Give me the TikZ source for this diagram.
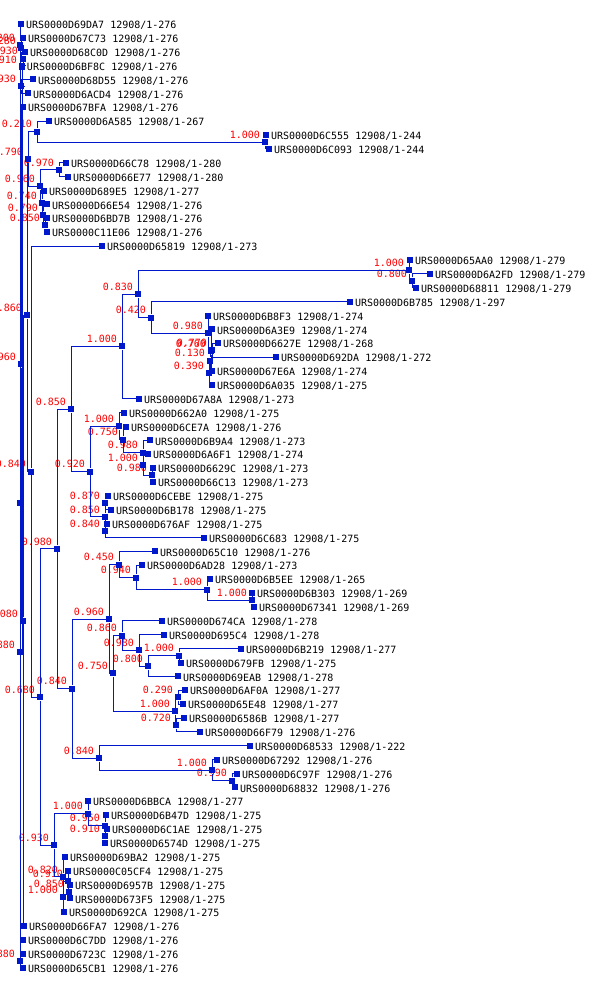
\documentclass[tikz,border=0pt]{standalone}
\usepackage{fontspec}
\usepackage{tikz}
\newfontfamily\treefont{DejaVu Sans Mono}
\definecolor{treeblue}{RGB}{0,24,204}
\definecolor{bootred}{RGB}{255,0,0}

\begin{document}
\begin{tikzpicture}
	[x=1pt,y=-1pt,line width=1pt,label distance=1pt,
		sq/.style={fill=treeblue,inner sep=0pt,minimum size=6pt},
		leaf/.style={sq,label={[name text]0:#1}},
		name text/.style={text=black,font=\treefont\fontsize{10}{12}\selectfont,inner sep=0pt,text height=7.3pt,text depth=0pt,yshift=-1pt},
		branch/.style={sq,label={[boot]180:#1}},
		boot/.style={text=bootred,font=\treefont\fontsize{10}{12}\selectfont,inner sep=0pt,anchor=base east,yshift=3.7pt},
		elbow/.style={to path={|- (\tikztotarget)}},
		every edge/.style={draw=treeblue}]

	\useasboundingbox (0,0) rectangle (600,1006);

	% sequences
	\node[leaf={URS0000D69DA7 12908/1-276}] (S1) at (21,24.0) {};
	\node[leaf={URS0000D67C73 12908/1-276}] (S2) at (23,37.9) {};
	\node[leaf={URS0000D68C0D 12908/1-276}] (S3) at (25,51.8) {};
	\node[leaf={URS0000D6BF8C 12908/1-276}] (S4) at (22,65.6) {};
	\node[leaf={URS0000D68D55 12908/1-276}] (S5) at (33,79.5) {};
	\node[leaf={URS0000D6ACD4 12908/1-276}] (S6) at (28,93.4) {};
	\node[leaf={URS0000D67BFA 12908/1-276}] (S7) at (23,107.3) {};
	\node[leaf={URS0000D6A585 12908/1-267}] (S8) at (49,121.2) {};
	\node[leaf={URS0000D6C555 12908/1-244}] (S9) at (266,135.0) {};
	\node[leaf={URS0000D6C093 12908/1-244}] (S10) at (269,148.9) {};
	\node[leaf={URS0000D66C78 12908/1-280}] (S11) at (66,162.8) {};
	\node[leaf={URS0000D66E77 12908/1-280}] (S12) at (68,176.7) {};
	\node[leaf={URS0000D689E5 12908/1-277}] (S13) at (44,190.6) {};
	\node[leaf={URS0000D66E54 12908/1-276}] (S14) at (47,204.4) {};
	\node[leaf={URS0000D6BD7B 12908/1-276}] (S15) at (47,218.3) {};
	\node[leaf={URS0000C11E06 12908/1-276}] (S16) at (47,232.2) {};
	\node[leaf={URS0000D65819 12908/1-273}] (S17) at (102,246.1) {};
	\node[leaf={URS0000D65AA0 12908/1-279}] (S18) at (410,260.0) {};
	\node[leaf={URS0000D6A2FD 12908/1-279}] (S19) at (430,273.8) {};
	\node[leaf={URS0000D68811 12908/1-279}] (S20) at (416,287.7) {};
	\node[leaf={URS0000D6B785 12908/1-297}] (S21) at (350,301.6) {};
	\node[leaf={URS0000D6B8F3 12908/1-274}] (S22) at (208,315.5) {};
	\node[leaf={URS0000D6A3E9 12908/1-274}] (S23) at (212,329.4) {};
	\node[leaf={URS0000D6627E 12908/1-268}] (S24) at (218,343.2) {};
	\node[leaf={URS0000D692DA 12908/1-272}] (S25) at (276,357.1) {};
	\node[leaf={URS0000D67E6A 12908/1-274}] (S26) at (212,371.0) {};
	\node[leaf={URS0000D6A035 12908/1-275}] (S27) at (212,384.9) {};
	\node[leaf={URS0000D67A8A 12908/1-273}] (S28) at (139,398.8) {};
	\node[leaf={URS0000D662A0 12908/1-275}] (S29) at (124,412.6) {};
	\node[leaf={URS0000D6CE7A 12908/1-276}] (S30) at (126,426.5) {};
	\node[leaf={URS0000D6B9A4 12908/1-273}] (S31) at (150,440.4) {};
	\node[leaf={URS0000D6A6F1 12908/1-274}] (S32) at (148,454.3) {};
	\node[leaf={URS0000D6629C 12908/1-273}] (S33) at (153,468.2) {};
	\node[leaf={URS0000D66C13 12908/1-273}] (S34) at (153,482.0) {};
	\node[leaf={URS0000D6CEBE 12908/1-275}] (S35) at (108,495.9) {};
	\node[leaf={URS0000D6B178 12908/1-275}] (S36) at (111,509.8) {};
	\node[leaf={URS0000D676AF 12908/1-275}] (S37) at (107,523.7) {};
	\node[leaf={URS0000D6C683 12908/1-275}] (S38) at (204,537.6) {};
	\node[leaf={URS0000D65C10 12908/1-276}] (S39) at (155,551.4) {};
	\node[leaf={URS0000D6AD28 12908/1-273}] (S40) at (142,565.3) {};
	\node[leaf={URS0000D6B5EE 12908/1-265}] (S41) at (210,579.2) {};
	\node[leaf={URS0000D6B303 12908/1-269}] (S42) at (252,593.1) {};
	\node[leaf={URS0000D67341 12908/1-269}] (S43) at (254,607.0) {};
	\node[leaf={URS0000D674CA 12908/1-278}] (S44) at (162,620.8) {};
	\node[leaf={URS0000D695C4 12908/1-278}] (S45) at (164,634.7) {};
	\node[leaf={URS0000D6B219 12908/1-277}] (S46) at (241,648.6) {};
	\node[leaf={URS0000D679FB 12908/1-275}] (S47) at (181,662.5) {};
	\node[leaf={URS0000D69EAB 12908/1-278}] (S48) at (178,676.4) {};
	\node[leaf={URS0000D6AF0A 12908/1-277}] (S49) at (185,690.2) {};
	\node[leaf={URS0000D65E48 12908/1-277}] (S50) at (183,704.1) {};
	\node[leaf={URS0000D6586B 12908/1-277}] (S51) at (184,718.0) {};
	\node[leaf={URS0000D66F79 12908/1-276}] (S52) at (200,731.9) {};
	\node[leaf={URS0000D68533 12908/1-222}] (S53) at (250,745.8) {};
	\node[leaf={URS0000D67292 12908/1-276}] (S54) at (217,759.6) {};
	\node[leaf={URS0000D6C97F 12908/1-276}] (S55) at (237,773.5) {};
	\node[leaf={URS0000D68832 12908/1-276}] (S56) at (235,787.4) {};
	\node[leaf={URS0000D6BBCA 12908/1-277}] (S57) at (88,801.3) {};
	\node[leaf={URS0000D6B47D 12908/1-275}] (S58) at (106,815.2) {};
	\node[leaf={URS0000D6C1AE 12908/1-275}] (S59) at (107,829.0) {};
	\node[leaf={URS0000D6574D 12908/1-275}] (S60) at (105,842.9) {};
	\node[leaf={URS0000D69BA2 12908/1-275}] (S61) at (65,856.8) {};
	\node[leaf={URS0000C05CF4 12908/1-275}] (S62) at (68,870.7) {};
	\node[leaf={URS0000D6957B 12908/1-275}] (S63) at (70,884.6) {};
	\node[leaf={URS0000D673F5 12908/1-275}] (S64) at (70,898.4) {};
	\node[leaf={URS0000D692CA 12908/1-275}] (S65) at (64,912.3) {};
	\node[leaf={URS0000D66FA7 12908/1-276}] (S66) at (24,926.2) {};
	\node[leaf={URS0000D6C7DD 12908/1-276}] (S67) at (23,940.1) {};
	\node[leaf={URS0000D6723C 12908/1-276}] (S68) at (23,954.0) {};
	\node[leaf={URS0000D65CB1 12908/1-276}] (S69) at (23,967.8) {};

	% branch points
	\node[branch={1.000}] (N1) at (265,142.0) {};
	\node[branch={0.210}] (N2) at (37,131.6) {};
	\node[branch={0.970}] (N3) at (59,169.8) {};
	\node[branch={0.850}] (N4) at (45,225.3) {};
	\node[branch={0.790}] (N5) at (43,214.8) {};
	\node[branch={0.740}] (N6) at (42,202.7) {};
	\node[branch={0.960}] (N7) at (40,186.3) {};
	\node[branch={0.790}] (N8) at (28,159.0) {};
	\node[branch={0.800}] (N9) at (412,280.8) {};
	\node[branch={1.000}] (N10) at (409,270.4) {};
	\node[branch={0.770}] (N11) at (212,350.2) {};
	\node[branch={0.130}] (N12) at (210,360.6) {};
	\node[branch={0.390}] (N13) at (209,372.8) {};
	\node[branch={0.760}] (N14) at (211,351.1) {};
	\node[branch={0.980}] (N15) at (208,333.3) {};
	\node[branch={0.420}] (N16) at (151,317.5) {};
	\node[branch={0.830}] (N17) at (138,294.0) {};
	\node[branch={1.000}] (N18) at (122,346.4) {};
	\node[branch={0.980}] (N19) at (152,475.1) {};
	\node[branch={1.000}] (N20) at (143,464.7) {};
	\node[branch={0.980}] (N21) at (143,452.6) {};
	\node[branch={0.750}] (N22) at (123,439.6) {};
	\node[branch={1.000}] (N23) at (119,426.1) {};
	\node[branch={0.870}] (N24) at (105,502.9) {};
	\node[branch={0.840}] (N25) at (105,530.7) {};
	\node[branch={0.850}] (N26) at (105,516.8) {};
	\node[branch={0.920}] (N27) at (90,471.5) {};
	\node[branch={0.850}] (N28) at (71,409.0) {};
	\node[branch={1.000}] (N29) at (252,600.1) {};
	\node[branch={1.000}] (N30) at (207,589.6) {};
	\node[branch={0.940}] (N31) at (136,577.5) {};
	\node[branch={0.450}] (N32) at (119,564.5) {};
	\node[branch={1.000}] (N33) at (179,655.6) {};
	\node[branch={0.800}] (N34) at (148,666.0) {};
	\node[branch={0.980}] (N35) at (139,650.4) {};
	\node[branch={0.860}] (N36) at (122,635.6) {};
	\node[branch={0.290}] (N37) at (178,697.2) {};
	\node[branch={0.720}] (N38) at (176,725.0) {};
	\node[branch={1.000}] (N39) at (175,711.1) {};
	\node[branch={0.750}] (N40) at (113,673.4) {};
	\node[branch={0.960}] (N41) at (109,619.0) {};
	\node[branch={0.990}] (N42) at (232,780.5) {};
	\node[branch={1.000}] (N43) at (212,770.1) {};
	\node[branch={0.840}] (N44) at (99,758.0) {};
	\node[branch={0.840}] (N45) at (72,688.5) {};
	\node[branch={0.980}] (N46) at (57,548.8) {};
	\node[branch={0.910}] (N47) at (105,836.0) {};
	\node[branch={0.950}] (N48) at (105,825.6) {};
	\node[branch={1.000}] (N49) at (88,813.5) {};
	\node[branch={0.850}] (N50) at (69,891.5) {};
	\node[branch={0.910}] (N51) at (68,881.1) {};
	\node[branch={1.000}] (N52) at (63,896.7) {};
	\node[branch={0.820}] (N53) at (63,876.8) {};
	\node[branch={0.930}] (N54) at (54,845.2) {};
	\node[branch={0.680}] (N55) at (40,697.0) {};
	\node[branch={0.840}] (N56) at (31,471.6) {};
	\node[branch={0.860}] (N57) at (27,315.3) {};
	\node[branch={0.080}] (N58) at (23,620.8) {};
	\node[branch={0.960}] (N59) at (21,364.1) {};
	\node[branch={0.880}] (N60) at (20,652.1) {};
	\node[branch={0.880}] (N61) at (20,960.9) {};
	\node[branch={0.930}] (N62) at (21,86.5) {};
	\node[branch={0.930}] (N63) at (23,58.7) {};
	\node[branch={0.280}] (N64) at (21,48.3) {};
	\node[branch={0.200}] (N65) at (20,45.0) {};
	\node[branch={0.910}] (N66) at (22,67.0) {};
	\node[sq] (N67) at (20,503.0) {};

	\path[]
	(N1) edge [elbow] (S9)  (N1) edge [elbow] (S10)
	(N2) edge [elbow] (S8)  (N2) edge [elbow] (N1)
	(N3) edge [elbow] (S11) (N3) edge [elbow] (S12)
	(N4) edge [elbow] (S15) (N4) edge [elbow] (S16)
	(N5) edge [elbow] (S14) (N5) edge [elbow] (N4)
	(N6) edge [elbow] (S13) (N6) edge [elbow] (N5)
	(N7) edge [elbow] (N3)  (N7) edge [elbow] (N6)
	(N8) edge [elbow] (N2)  (N8) edge [elbow] (N7)

	(N9) edge [elbow] (S19)  (N9) edge [elbow] (S20)
	(N10) edge [elbow] (S18) (N10) edge [elbow] (N9)
	(N11) edge [elbow] (S24) (N11) edge [elbow] (S25)
	(N12) edge [elbow] (N11) (N12) edge [elbow] (S26)
	(N13) edge [elbow] (N12) (N13) edge [elbow] (S27)
	(N14) edge [elbow] (S23) (N14) edge [elbow] (N13)
	(N15) edge [elbow] (S22) (N15) edge [elbow] (N14)
	(N16) edge [elbow] (S21) (N16) edge [elbow] (N15)
	(N17) edge [elbow] (N10) (N17) edge [elbow] (N16)
	(N18) edge [elbow] (N17) (N18) edge [elbow] (S28)

	(N19) edge [elbow] (S33) (N19) edge [elbow] (S34)
	(N20) edge [elbow] (S32) (N20) edge [elbow] (N19)
	(N21) edge [elbow] (S31) (N21) edge [elbow] (N20)
	(N22) edge [elbow] (S30) (N22) edge [elbow] (N21)
	(N23) edge [elbow] (S29) (N23) edge [elbow] (N22)
	(N24) edge [elbow] (S35) (N24) edge [elbow] (S36)
	(N25) edge [elbow] (S37) (N25) edge [elbow] (S38)
	(N26) edge [elbow] (N24) (N26) edge [elbow] (N25)
	(N27) edge [elbow] (N23) (N27) edge [elbow] (N26)
	(N28) edge [elbow] (N18) (N28) edge [elbow] (N27)

	(N29) edge [elbow] (S42) (N29) edge [elbow] (S43)
	(N30) edge [elbow] (S41) (N30) edge [elbow] (N29)
	(N31) edge [elbow] (S40) (N31) edge [elbow] (N30)
	(N32) edge [elbow] (S39) (N32) edge [elbow] (N31)
	(N33) edge [elbow] (S46) (N33) edge [elbow] (S47)
	(N34) edge [elbow] (N33) (N34) edge [elbow] (S48)
	(N35) edge [elbow] (S45) (N35) edge [elbow] (N34)
	(N36) edge [elbow] (S44) (N36) edge [elbow] (N35)
	(N37) edge [elbow] (S49) (N37) edge [elbow] (S50)
	(N38) edge [elbow] (S51) (N38) edge [elbow] (S52)
	(N39) edge [elbow] (N37) (N39) edge [elbow] (N38)
	(N40) edge [elbow] (N36) (N40) edge [elbow] (N39)
	(N41) edge [elbow] (N32) (N41) edge [elbow] (N40)
	(N42) edge [elbow] (S55) (N42) edge [elbow] (S56)
	(N43) edge [elbow] (S54) (N43) edge [elbow] (N42)
	(N44) edge [elbow] (S53) (N44) edge [elbow] (N43)
	(N45) edge [elbow] (N41) (N45) edge [elbow] (N44)
	(N46) edge [elbow] (N28) (N46) edge [elbow] (N45)

	(N47) edge [elbow] (S59) (N47) edge [elbow] (S60)
	(N48) edge [elbow] (S58) (N48) edge [elbow] (N47)
	(N49) edge [elbow] (S57) (N49) edge [elbow] (N48)
	(N50) edge [elbow] (S63) (N50) edge [elbow] (S64)
	(N51) edge [elbow] (S62) (N51) edge [elbow] (N50)
	(N52) edge [elbow] (N51) (N52) edge [elbow] (S65)
	(N53) edge [elbow] (S61) (N53) edge [elbow] (N52)
	(N54) edge [elbow] (N49) (N54) edge [elbow] (N53)
	(N55) edge [elbow] (N46) (N55) edge [elbow] (N54)
	(N56) edge [elbow] (S17) (N56) edge [elbow] (N55)
	(N57) edge [elbow] (N8)  (N57) edge [elbow] (N56)
	(N58) edge [elbow] (N57) (N58) edge [elbow] (S66)

	(N59) edge [elbow] (S7)  (N59) edge [elbow] (N58)
	(N60) edge [elbow] (N59) (N60) edge [elbow] (S67)
	(N61) edge [elbow] (S68) (N61) edge [elbow] (S69)
	(N62) edge [elbow] (S5)  (N62) edge [elbow] (S6)
	(N63) edge [elbow] (S3)  (N63) edge [elbow] (S4)
	(N64) edge [elbow] (S2)  (N64) edge [elbow] (N63)
	(N65) edge [elbow] (S1)  (N65) edge [elbow] (N64)
	(N66) edge [elbow] (N62) (N66) edge [elbow] (N60)
	(N67) edge [elbow] (N65) (N67) edge [elbow] (N66)
	(N67) edge [elbow] (N61)
	;

\end{tikzpicture}
\end{document}
